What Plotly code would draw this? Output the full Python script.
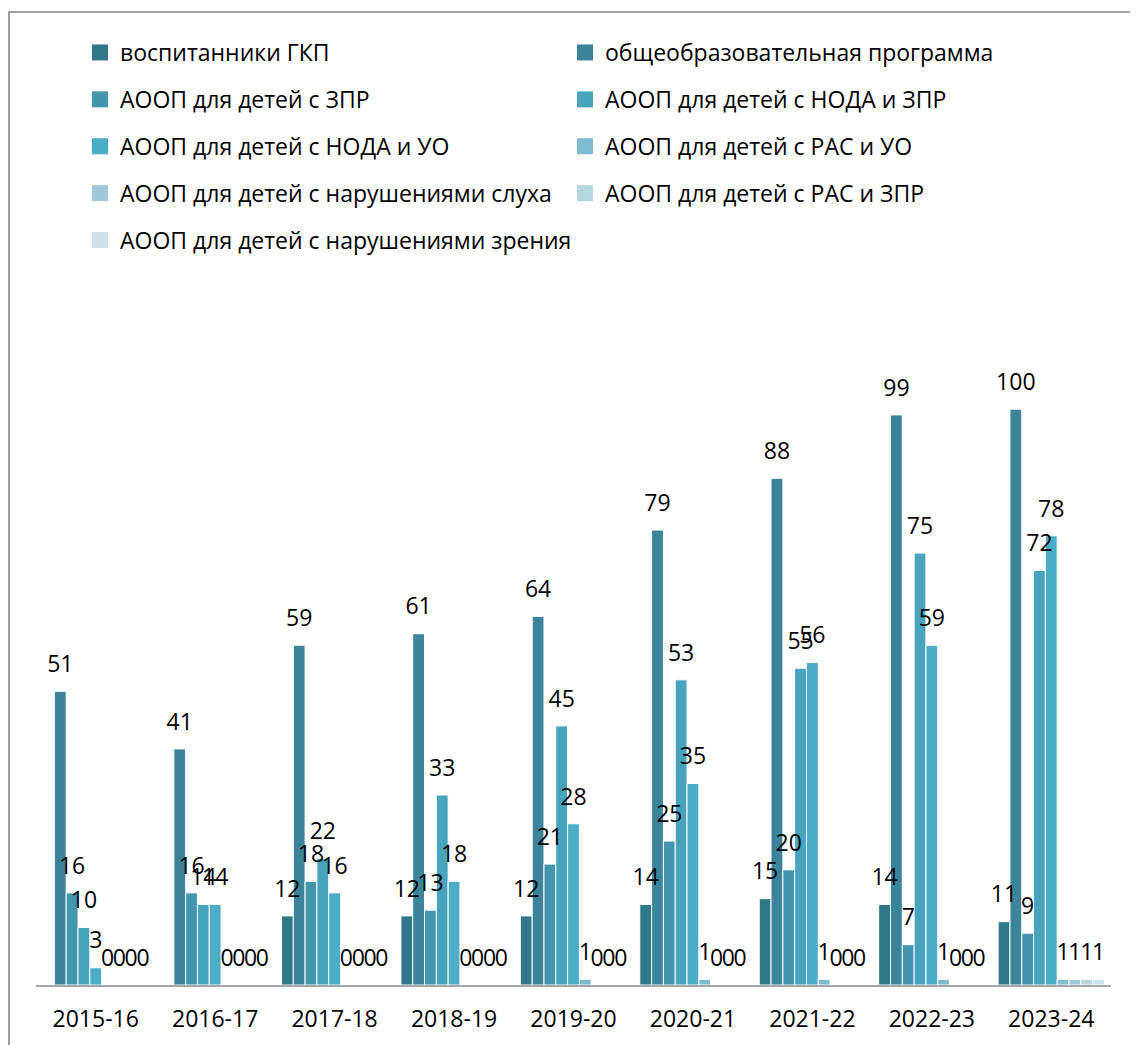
import plotly.graph_objects as go

categories = ['2015-16', '2016-17', '2017-18', '2018-19', '2019-20',
              '2020-21', '2021-22', '2022-23', '2023-24']

series_names = [
    'воспитанники ГКП',
    'общеобразовательная программа',
    'АООП для детей с ЗПР',
    'АООП для детей с НОДА и ЗПР',
    'АООП для детей с НОДА и УО',
    'АООП для детей с РАС и УО',
    'АООП для детей с нарушениями слуха',
    'АООП для детей с РАС и ЗПР',
    'АООП для детей с нарушениями зрения',
]

gkp = [None, None, 12, 12, 12, 14, 15, 14, 11]
obshch = [51, 41, 59, 61, 64, 79, 88, 99, 100]
zpr = [16, 16, 18, 13, 21, 25, 20, 7, 9]
noda_zpr = [10, 14, 22, 33, 45, 53, 55, 75, 72]
noda_uo = [3, 14, 16, 18, 28, 35, 56, 59, 78]
ras_uo = [0, 0, 0, 0, 1, 1, 1, 1, 1]
sluh = [0, 0, 0, 0, 0, 0, 0, 0, 1]
ras_zpr = [0, 0, 0, 0, 0, 0, 0, 0, 1]
zrenie = [0, 0, 0, 0, 0, 0, 0, 0, 1]

series_values = [gkp, obshch, zpr, noda_zpr, noda_uo, ras_uo, sluh, ras_zpr, zrenie]

colors = ['#31778A', '#3B8499', '#4395AE', '#48A3BD', '#4BADC7',
          '#7FBBCF', '#9DC9D8', '#B6D6E2', '#CCE1EA']

FONT = 'Open Sans'
W, H = 1130, 1037
ML, MR, MT, MB = 28, 27, 286, 60
PW, PH = W - ML - MR, H - MT - MB


def px_x(v):  # figure pixel -> paper fraction
    return (v - ML) / PW


def px_y(v):
    return (H - MB - v) / PH


fig = go.Figure()
for i, (name, vals, col) in enumerate(zip(series_names, series_values, colors)):
    fig.add_trace(go.Bar(
        x=categories, y=vals, name=name,
        marker=dict(color=col, line=dict(color='white', width=1)),
        offsetgroup=f'o{i}', showlegend=False, hoverinfo='skip',
    ))
for i, vals in enumerate(series_values):
    fig.add_trace(go.Scatter(
        x=categories, y=vals, mode='markers+text',
        text=[None if v is None else str(v) for v in vals],
        textposition='top center',
        textfont=dict(family=FONT, size=23, color='black'),
        marker=dict(size=20, opacity=0, color='white'),
        offsetgroup=f'o{i}',
        showlegend=False, hoverinfo='skip', cliponaxis=False,
    ))
for i, (name, col) in enumerate(zip(series_names, colors)):
    fig.add_trace(go.Scatter(
        x=[None], y=[None], mode='markers', name=name,
        marker=dict(symbol='square', size=16, color=col),
        offsetgroup=f'o{i}',
        legend='legend' if i % 2 == 0 else 'legend2',
        legendgroup=f'g{i}', hoverinfo='skip',
    ))

leg_common = dict(xanchor='left', yanchor='top', orientation='v',
                  traceorder='grouped', tracegroupgap=14,
                  font=dict(family=FONT, size=23, color='black'),
                  bgcolor='rgba(0,0,0,0)')

fig.update_layout(
    width=W, height=H,
    margin=dict(l=ML, r=MR, t=MT, b=MB),
    paper_bgcolor='white', plot_bgcolor='white',
    barmode='group', bargap=0.11, bargroupgap=0,
    scattermode='group', scattergap=0.11,
    font=dict(family=FONT, size=23, color='black'),
    legend=dict(x=px_x(72), y=px_y(23), **leg_common),
    legend2=dict(x=px_x(557), y=px_y(23), **leg_common),
    xaxis=dict(type='category', showline=True, linecolor='#A6A6A6', linewidth=2,
               ticks='', showgrid=False, ticklabelstandoff=12,
               tickfont=dict(family=FONT, size=23, color='black')),
    yaxis=dict(range=[0, 120], visible=False, showgrid=False, zeroline=False),
    shapes=[dict(type='rect', xref='paper', yref='paper',
                 x0=px_x(1), x1=px_x(W + 40), y0=px_y(H + 40), y1=px_y(4),
                 line=dict(color='#A0A0A0', width=2), fillcolor='rgba(0,0,0,0)', layer='below')],
)

fig.write_html('out.html')
